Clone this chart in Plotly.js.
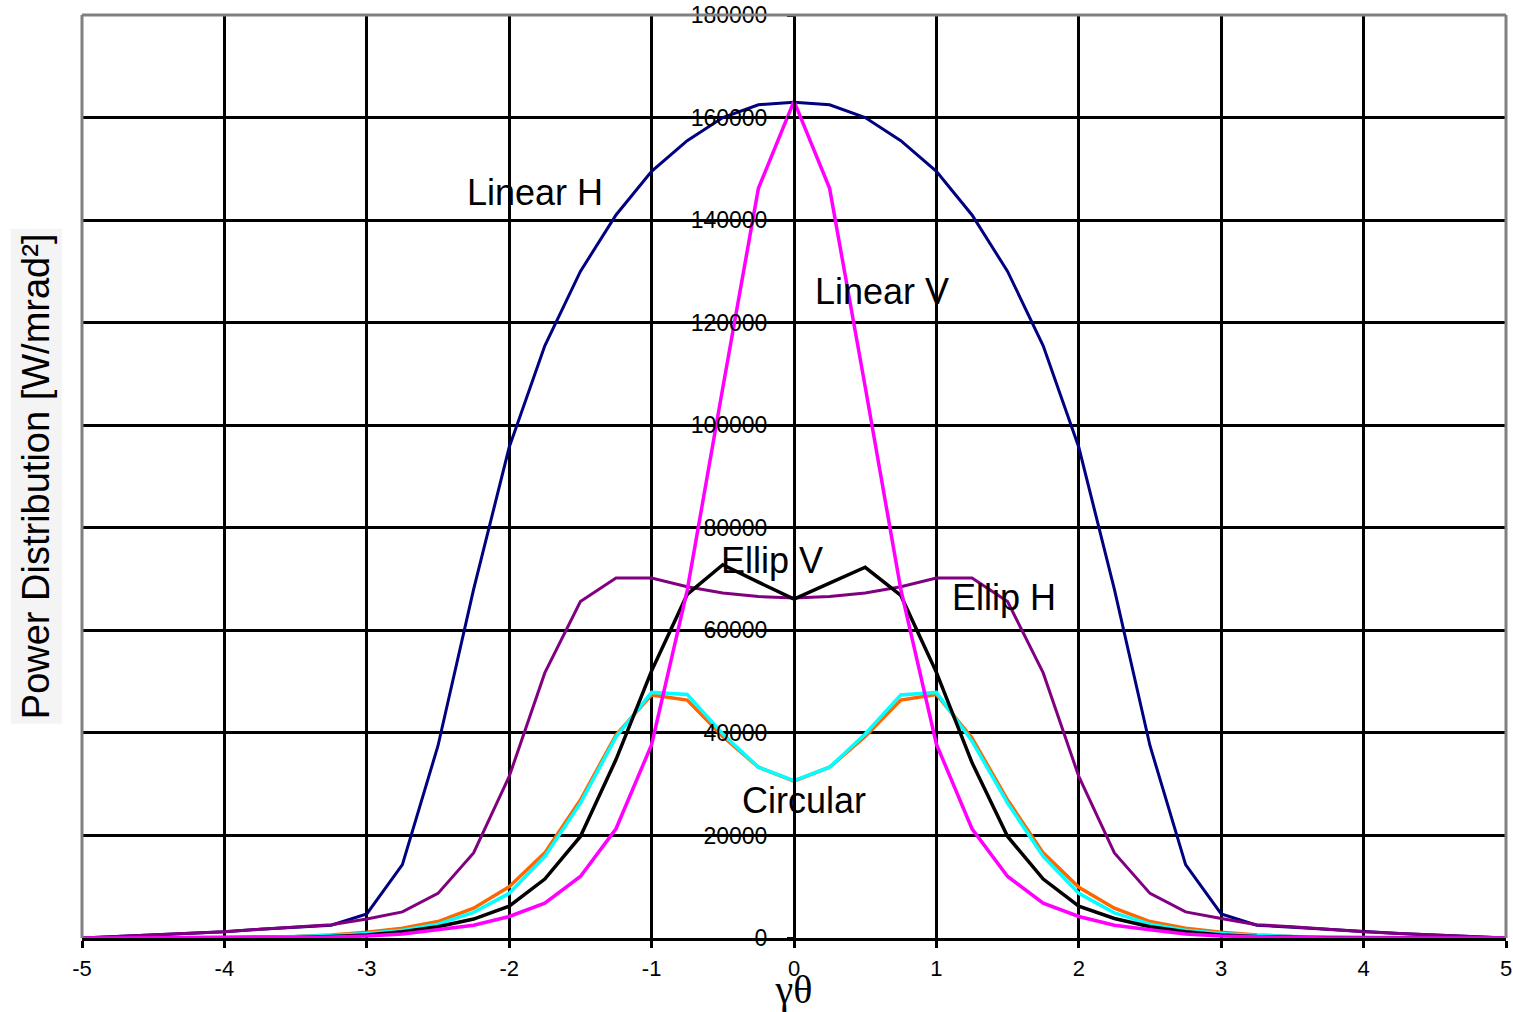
<!DOCTYPE html>
<html>
<head>
<meta charset="utf-8">
<script src="https://cdn.plot.ly/plotly-3.0.1.min.js"></script>
<style>html,body{margin:0;padding:0;background:#fff;}#chart{width:1513px;height:1012px;}</style>
</head>
<body>
<div id="chart"></div>
<script>
// gamma*theta values
var gammaTheta = [-5,-4.75,-4.5,-4.25,-4,-3.75,-3.5,-3.25,-3,-2.75,-2.5,-2.25,-2,-1.75,-1.5,-1.25,-1,-0.75,-0.5,-0.25,0,0.25,0.5,0.75,1,1.25,1.5,1.75,2,2.25,2.5,2.75,3,3.25,3.5,3.75,4,4.25,4.5,4.75,5];

var linearH = [0,300,600,900,1200,1700,2100,2500,4700,14300,37500,68000,95700,115500,130000,141000,149500,155500,160000,162500,163000,162500,160000,155500,149500,141000,130000,115500,95700,68000,37500,14300,4700,2500,2100,1700,1200,900,600,300,0];

var linearV = [0,0,0,0,0,0,100,200,400,800,1600,2500,4200,6800,12000,21300,37700,67800,107300,146200,163200,146200,107500,68000,37800,21300,12000,6800,4200,2500,1600,800,400,200,100,0,0,0,0,0,0];

var ellipV = [0,0,0,0,0,50,100,300,600,1200,2200,3700,6200,11500,19800,34800,52100,67000,72800,69400,66100,69200,72300,66800,51800,34200,19800,11500,6200,3800,2200,1200,600,300,100,50,0,0,0,0,0];

var ellipH = [0,300,600,900,1200,1700,2200,2600,3700,5100,8700,16600,31500,51700,65600,70200,70200,68500,67300,66600,66300,66600,67300,68500,70200,70200,65600,51700,31500,16600,8700,5100,3800,2600,2200,1700,1200,900,600,300,0];

var circularA = [0,0,0,0,100,200,300,600,1100,1900,3200,5800,10000,16600,26900,39600,47400,46400,39300,33300,30600,33300,39300,46400,47500,39000,26900,16600,9900,5800,3200,1900,1100,600,300,200,100,0,0,0,0];

var circularB = [0,0,0,0,0,100,300,500,900,1500,2700,5000,8700,15900,26300,39200,47900,47500,39800,33300,30700,33300,39800,47400,47900,38400,26300,15900,8700,4900,2700,1500,900,500,300,100,0,0,0,0,0];

var xTickVals = [-5,-4,-3,-2,-1,0,1,2,3,4,5];
var xTickText = ["-5","-4","-3","-2","-1","0","1","2","3","4","5"];
var yTickVals = [0,20000,40000,60000,80000,100000,120000,140000,160000,180000];
var yTickText = ["0","20000","40000","60000","80000","100000","120000","140000","160000","180000"];

var curveLabels = ["Linear H","Linear V","Ellip V","Ellip H","Circular"];
var labelX = [-1.82,0.62,-0.155,1.475,0.07];
var labelY = [145300,126000,73700,66500,26900];

var xTitle = "γθ";
var yTitle = "Power Distribution [W/mrad²]";

function tr(y, color, w){
  return {x: gammaTheta, y: y, type:'scatter', mode:'lines',
          line:{color:color, width:w}, hoverinfo:'skip', showlegend:false};
}

var data = [
  tr(linearH,'#000080',3),
  tr(ellipH,'#800080',3),
  tr(circularA,'#FF6600',3.5),
  tr(circularB,'#00FFFF',3.5),
  tr(ellipV,'#000000',3.5),
  tr(linearV,'#FF00FF',3.5)
];

var annotations = curveLabels.map(function(t,i){
  return {x:labelX[i], y:labelY[i], xref:'x', yref:'y', text:t, showarrow:false,
          font:{family:'Liberation Sans, Arial, sans-serif', size:36, color:'#000'}};
});
annotations.push({xref:'paper', yref:'paper', x:-0.0325, y:0.5, xanchor:'center', yanchor:'middle',
  text:yTitle, textangle:-90,
  showarrow:false, bgcolor:'#f4f4f4', borderpad:4,
  font:{family:'Liberation Sans, Arial, sans-serif', size:38, color:'#000'}});

var layout = {
  width:1513, height:1012,
  margin:{l:82, r:7, t:15, b:74, pad:0},
  paper_bgcolor:'#ffffff', plot_bgcolor:'#ffffff',
  showlegend:false,
  xaxis:{
    range:[-5,5], tickvals:xTickVals, ticktext:xTickText,
    showgrid:true, gridcolor:'#000000', gridwidth:3,
    zeroline:false, showline:true, linecolor:'#000000', linewidth:3,
    ticks:'outside', ticklen:7, tickwidth:3, tickcolor:'#000000',
    tickfont:{family:'Liberation Sans, Arial, sans-serif', size:22, color:'#000'},
    ticklabelstandoff:2,
    title:{text:xTitle, standoff:3, font:{family:'Liberation Serif, Times New Roman, serif', size:40, color:'#000'}},
    automargin:false
  },
  yaxis:{
    range:[0,180000], tickvals:yTickVals, ticktext:yTickText,
    anchor:'free', position:0.5, side:'left',
    showgrid:true, gridcolor:'#000000', gridwidth:3,
    zeroline:false, showline:true, linecolor:'#000000', linewidth:3,
    ticks:'outside', ticklen:6, tickwidth:3, tickcolor:'#000000',
    tickfont:{family:'Liberation Sans, Arial, sans-serif', size:23, color:'#000'},
    ticklabelstandoff:15,
    automargin:false
  },
  shapes:[
    {type:'line', xref:'paper', yref:'paper', x0:0, x1:1, y0:1, y1:1, line:{color:'#808080', width:3}, layer:'above'},
    {type:'line', xref:'paper', yref:'paper', x0:0, x1:0, y0:0, y1:1, line:{color:'#808080', width:3}, layer:'above'},
    {type:'line', xref:'paper', yref:'paper', x0:1, x1:1, y0:0, y1:1, line:{color:'#808080', width:3}, layer:'above'}
  ],
  annotations:annotations
};

Plotly.newPlot('chart', data, layout, {displayModeBar:false, staticPlot:true});
</script>
</body>
</html>
